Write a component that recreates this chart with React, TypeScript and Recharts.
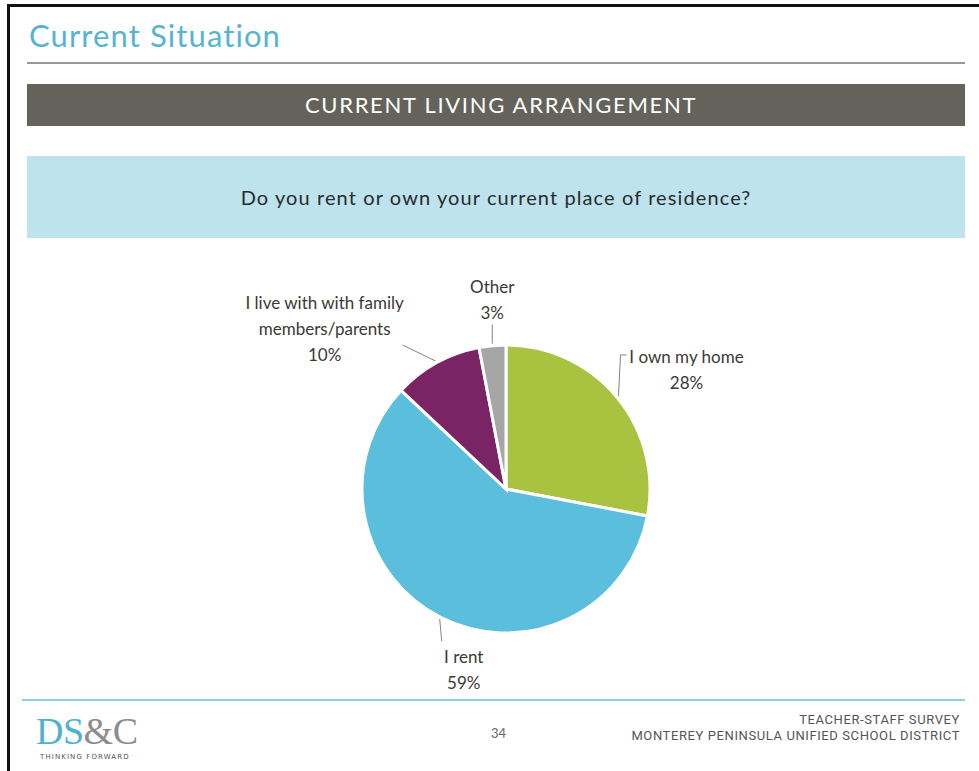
import React from "react";
import { PieChart, Pie, Cell } from "recharts";

// survey answers, clockwise from 12 o'clock
const answers = ["I own my home", "I rent", "I live with with family members/parents", "Other"];
const shares = [28, 59, 10, 3];
const labelLines = [
  ["I own my home", "28%"],
  ["I rent", "59%"],
  ["I live with with family", "members/parents", "10%"],
  ["Other", "3%"],
];

const colors = ["#A9C23F", "#5BBEDC", "#7A2466", "#A6A6A6"];

// leader line / label placement per slice: elbow offset from the rim, tail, text offset
const labelLayout = [
  { lead: [2, -41], tail: 6, text: [60, 2] },
  { lead: [2, 22], tail: 0, text: [22, 15] },
  { lead: [-33, -16], tail: 0, text: [-78, -43] },
  { lead: [0, -19], tail: 0, text: [0, -38] },
];

const data = answers.map((name, i) => ({ name, value: shares[i] }));

const RAD = Math.PI / 180;
const labelFont = "Lato, 'Open Sans', sans-serif";

function SliceLabel(props: any) {
  const { cx, cy, midAngle, outerRadius, index } = props;
  const lay = labelLayout[index];
  const ex = cx + (outerRadius + 2) * Math.cos(-midAngle * RAD);
  const ey = cy + (outerRadius + 2) * Math.sin(-midAngle * RAD);
  const bx = ex + lay.lead[0];
  const by = ey + lay.lead[1];
  const tx = bx + lay.tail;
  const lines = labelLines[index];
  return (
    <g>
      <polyline
        points={`${ex},${ey} ${bx},${by} ${tx},${by}`}
        fill="none"
        stroke="#8a8080"
        strokeWidth={1}
      />
      {lines.map((t, k) => (
        <text
          key={k}
          x={tx + lay.text[0]}
          y={by + lay.text[1] + k * 26}
          textAnchor="middle"
          dominantBaseline="central"
          fill="#3b3838"
          fontSize={17}
          fontFamily={labelFont}
        >
          {t}
        </text>
      ))}
    </g>
  );
}

export default function App() {
  return (
    <div
      style={{
        position: "absolute",
        left: 0,
        top: 0,
        width: 979,
        height: 771,
        background: "#fff",
        overflow: "hidden",
        fontFamily: labelFont,
      }}
    >
      {/* slide frame */}
      <div style={{ position: "absolute", left: 7, top: 4, width: 972, height: 3, background: "#111" }} />
      <div style={{ position: "absolute", left: 7, top: 4, width: 3, height: 767, background: "#111" }} />

      <div
        style={{
          position: "absolute",
          left: 29,
          top: 16,
          fontSize: 31,
          color: "#56B4D3",
          fontFamily: labelFont,
          letterSpacing: 1.1,
        }}
      >
        Current Situation
      </div>
      <div style={{ position: "absolute", left: 27, top: 62, width: 938, height: 2, background: "#9b9693" }} />

      <div
        style={{
          position: "absolute",
          left: 27,
          top: 84,
          width: 938,
          paddingLeft: 10,
          boxSizing: "border-box",
          height: 42,
          background: "#64635B",
          color: "#fff",
          fontSize: 22,
          lineHeight: "42px",
          textAlign: "center",
          letterSpacing: 1.7,
        }}
      >
        CURRENT LIVING ARRANGEMENT
      </div>

      <div
        style={{
          position: "absolute",
          left: 27,
          top: 156,
          width: 938,
          height: 82,
          background: "#BDE3EE",
          color: "#2b2b2b",
          fontSize: 20,
          lineHeight: "82px",
          textAlign: "center",
          letterSpacing: 1.1,
        }}
      >
        Do you rent or own your current place of residence?
      </div>

      <div style={{ position: "absolute", left: 0, top: 0 }}>
        <PieChart width={979} height={771} margin={{ top: 0, right: 0, bottom: 0, left: 0 }}>
          <Pie
            data={data}
            dataKey="value"
            nameKey="name"
            cx={506}
            cy={489}
            outerRadius={144}
            startAngle={90}
            endAngle={-270}
            stroke="#fff"
            strokeWidth={3}
            label={SliceLabel}
            labelLine={false}
            isAnimationActive={false}
          >
            {data.map((d, i) => (
              <Cell key={d.name} fill={colors[i]} />
            ))}
          </Pie>
        </PieChart>
      </div>

      {/* footer */}
      <div style={{ position: "absolute", left: 22, top: 699, width: 943, height: 2, background: "#8FD0E3" }} />
      <div
        style={{
          position: "absolute",
          left: 36,
          top: 713,
          fontFamily: "'Liberation Serif', 'DejaVu Serif', serif",
          fontSize: 38,
          lineHeight: "36px",
          letterSpacing: -0.5,
        }}
      >
        <span style={{ color: "#4FB2CF" }}>DS</span>
        <span style={{ color: "#8d8d8d" }}>&amp;C</span>
      </div>
      <div
        style={{
          position: "absolute",
          left: 40,
          top: 752,
          fontSize: 7,
          lineHeight: "10px",
          letterSpacing: 1.1,
          color: "#555",
          fontFamily: "'DejaVu Sans', sans-serif",
        }}
      >
        THINKING FORWARD
      </div>
      <div style={{ position: "absolute", left: 491, top: 725, fontSize: 13, color: "#666" }}>34</div>
      <div
        style={{
          position: "absolute",
          right: 19,
          top: 712,
          textAlign: "right",
          fontSize: 13,
          lineHeight: "16px",
          letterSpacing: 0.6,
          color: "#555",
          fontFamily: "'Liberation Sans Narrow', Roboto, sans-serif",
        }}
      >
        TEACHER-STAFF SURVEY
        <br />
        MONTEREY PENINSULA UNIFIED SCHOOL DISTRICT
      </div>
    </div>
  );
}
